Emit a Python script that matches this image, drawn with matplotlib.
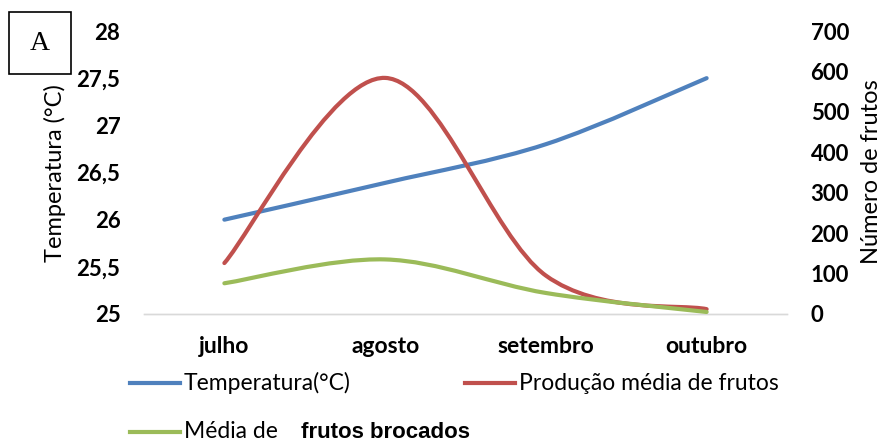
import numpy as np
import matplotlib
matplotlib.use("Agg")
import matplotlib.pyplot as plt
from matplotlib.path import Path
from matplotlib.patches import PathPatch, Rectangle
from matplotlib.lines import Line2D

months = ["julho", "agosto", "setembro", "outubro"]
temperatura = [26.0, 26.39, 26.8, 27.5]
producao = [126, 584, 95, 12]
brocados = [76, 135, 52, 5]

temp_ticks = [25, 25.5, 26, 26.5, 27, 27.5, 28]
temp_labels = ["25", "25,5", "26", "26,5", "27", "27,5", "28"]
frutos_ticks = [0, 100, 200, 300, 400, 500, 600, 700]

BLUE = "#4F81BD"
RED = "#C0504D"
GREEN = "#9BBB59"
FONT = "Lato"

W, H = 884, 443


def smooth_path(x, y):
    # excel style smoothed line: bezier through every point
    verts = [(x[0], y[0])]
    codes = [Path.MOVETO]
    n = len(x)
    for i in range(n - 1):
        a = i - 1 if i > 0 else i
        b = i + 2 if i + 2 < n else i + 1
        c1 = (x[i] + (x[i + 1] - x[a]) / 6, y[i] + (y[i + 1] - y[a]) / 6)
        c2 = (x[i + 1] - (x[b] - x[i]) / 6, y[i + 1] - (y[b] - y[i]) / 6)
        verts += [c1, c2, (x[i + 1], y[i + 1])]
        codes += [Path.CURVE4] * 3
    return Path(verts, codes)


def px(x, y):
    return x / W, 1 - y / H


fig = plt.figure(figsize=(W / 100, H / 100), dpi=100)
ax = fig.add_axes([144 / W, 1 - 314 / H, 643 / W, 283 / H])
ax2 = ax.twinx()

xs = np.arange(len(months))
ax.add_patch(PathPatch(smooth_path(xs, temperatura), fill=False, color=BLUE,
                       lw=3, capstyle="round", zorder=3))
ax2.add_patch(PathPatch(smooth_path(xs, producao), fill=False, color=RED,
                        lw=3, capstyle="round", zorder=3))
ax2.add_patch(PathPatch(smooth_path(xs, brocados), fill=False, color=GREEN,
                        lw=3, capstyle="round", zorder=4))

ax.set_xlim(-0.5, len(months) - 0.5)
ax.set_ylim(25, 28)
ax2.set_ylim(0, 700)

ax.set_xticks(xs)
ax.set_xticklabels(months, fontname=FONT, fontsize=16.5, fontweight="bold")
ax.set_yticks(temp_ticks)
ax.set_yticklabels(temp_labels, fontname=FONT, fontsize=16, fontweight="bold")
ax2.set_yticks(frutos_ticks)
ax2.set_yticklabels([str(v) for v in frutos_ticks], fontname=FONT,
                    fontsize=16, fontweight="bold")
ax.tick_params(axis="y", length=0, pad=17)
ax.tick_params(axis="x", length=0, pad=16)
ax2.tick_params(axis="y", length=0, pad=17)

for a in (ax, ax2):
    for s in ["top", "left", "right"]:
        a.spines[s].set_visible(False)
    a.spines["bottom"].set_color("#D9D9D9")
    a.spines["bottom"].set_linewidth(1)

# axis titles placed by centre
fig.text(*px(55, 173), "Temperatura (°C)", fontname=FONT, fontsize=17,
         rotation=90, ha="center", va="center")
fig.text(*px(871, 172), "Número de frutos", fontname=FONT, fontsize=17,
         rotation=90, ha="center", va="center")

# legend drawn by hand to follow the original layout
legend = [(BLUE, 130, 383, "Temperatura(°C)"),
          (RED, 465, 383, "Produção média de frutos"),
          (GREEN, 130, 432, "Média de")]
for color, x0, y0, label in legend:
    (xa, ya), (xb, _) = px(x0, y0), px(x0 + 50, y0)
    fig.add_artist(Line2D([xa, xb], [ya, ya], color=color, lw=3))
    fig.text(*px(x0 + 54, y0), label, fontname=FONT, fontsize=16.5,
             va="center", ha="left")
fig.text(*px(301, 433), "frutos brocados", fontname="Liberation Sans",
         fontsize=16, fontweight="bold", va="center", ha="left")

# panel letter
fig.add_artist(Rectangle(px(9, 74), 62 / W, 62 / H, fill=False,
                         edgecolor="black", lw=1.2, transform=fig.transFigure))
fig.text(*px(40, 43), "A", fontname="Liberation Serif", fontsize=20,
         ha="center", va="center")

fig.savefig("out.png", dpi=100)
